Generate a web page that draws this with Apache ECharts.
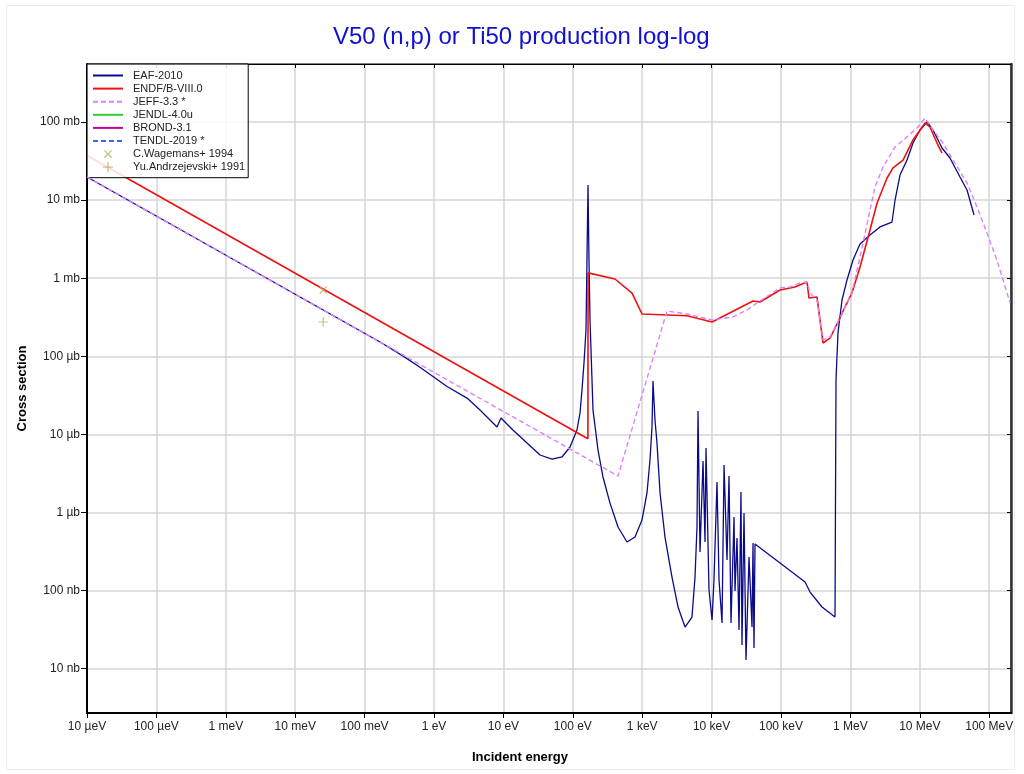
<!DOCTYPE html>
<html>
<head>
<meta charset="utf-8">
<script src="https://cdn.jsdelivr.net/npm/echarts@6/dist/echarts.min.js"></script>
<style>
html,body{margin:0;padding:0;background:#fff;}
#chart{width:1024px;height:774px;}
</style>
</head>
<body>
<div id="chart"></div>
<script>
// Energies in eV, cross sections in barns
const energyTickValues = [1e-5,1e-4,1e-3,1e-2,1e-1,1,10,100,1e3,1e4,1e5,1e6,1e7,1e8];
const energyTickLabels = ['10 µeV','100 µeV','1 meV','10 meV','100 meV','1 eV','10 eV','100 eV','1 keV','10 keV','100 keV','1 MeV','10 MeV','100 MeV'];
const xsTickValues = [1e-8,1e-7,1e-6,1e-5,1e-4,1e-3,1e-2,1e-1];
const xsTickLabels = ['10 nb','100 nb','1 µb','10 µb','100 µb','1 mb','10 mb','100 mb'];

const seriesNames = ['EAF-2010','ENDF/B-VIII.0','JEFF-3.3 *','JENDL-4.0u','BROND-3.1','TENDL-2019 *','C.Wagemans+ 1994','Yu.Andrzejevski+ 1991'];

const eaf2010 = [
 [1e-5,0.01977],[0.1667,1.524e-4],[0.35,1.02e-4],[0.62,7.3e-5],[0.966,5.5e-5],[1.538,4.1e-5],[2.99,2.92e-5],
 [4.60,2.05e-5],[8.09,1.245e-5],[9.23,1.62e-5],[13.7,1.14e-5],[21.9,7.76e-6],[33.7,5.45e-6],
 [50.1,4.84e-6],[69.8,5.14e-6],[91.2,6.90e-6],[114.9,1.14e-5],[127,1.88e-5],[135.6,3.71e-5],
 [144.9,8.20e-5],[154.9,2.17e-4],[160,1.71e-3],[165.5,0.0156],[171,1.71e-3],[177,2.92e-4],
 [195.4,2.05e-5],[230.7,6.31e-6],[272,2.85e-6],[343.6,1.32e-6],[448,6.52e-7],[604,4.19e-7],
 [787,4.85e-7],[993,8.01e-7],[1172,1.78e-6],[1295,4.70e-6],[1384,1.245e-5],[1430,4.83e-5],
 [1528,1.53e-5],[1633,7.76e-6],[1807,1.78e-6],[2130,4.85e-7],[2685,1.49e-7],[3280,6.17e-8],
 [4140,3.42e-8],[5215,4.59e-8],[5765,1.49e-7],[6160,6.52e-7],[6370,2.00e-5],[6810,3.12e-7],
 [7520,4.56e-6],[8035,4.19e-7],[8300,6.70e-6],[9170,1.02e-7],[10140,4.21e-8],[10820,1.37e-7],
 [11960,2.46e-6],[12790,1.37e-7],[14130,3.85e-8],[15100,4.06e-6],[16120,4.06e-6],[16670,2.47e-7],
 [17820,2.93e-6],[19030,3.85e-8],[21030,8.75e-7],[21730,9.89e-8],[23230,4.71e-7],[24830,3.13e-8],
 [26500,1.83e-6],[27400,2.01e-8],[29300,9.86e-7],[31300,1.29e-8],[34600,2.69e-7],[38200,3.42e-8],
 [39500,4.07e-7],[40800,1.84e-8],[42200,3.95e-7],[222000,1.29e-7],[262000,9.59e-8],[390000,6.17e-8],
 [600000,4.59e-8],[620000,4.98e-5],[662000,1.99e-4],[757000,5.26e-4],[893000,9.48e-4],
 [1.09e6,1.71e-3],[1.375e6,2.74e-3],[1.915e6,3.57e-3],[2.67e6,4.53e-3],[3.97e6,5.24e-3],
 [4.40e6,0.01003],[5.18e6,0.02094],[6.54e6,0.0326],[7.98e6,0.0538],[1.007e7,0.079],[1.27e7,0.1],
 [1.55e7,0.079],[2.09e7,0.0465],[2.72e7,0.0346],[3.79e7,0.0198],[4.79e7,0.01346],[6.04e7,6.44e-3]
];

const endfb80 = [
 [1e-5,0.0373],[165,8.8e-6],[166,1.17e-3],[405,9.77e-4],[713,6.46e-4],[994,3.48e-4],[4425,3.3e-4],
 [10140,2.75e-4],[39500,5.11e-4],[49800,4.96e-4],[96800,7.06e-4],[159000,7.71e-4],[201000,8.43e-4],
 [237000,8.94e-4],[253000,5.57e-4],[330000,5.74e-4],[403000,1.48e-4],[508000,1.71e-4],[662000,2.75e-4],
 [836000,4.28e-4],[1.05e6,6.46e-4],[1.375e6,1.39e-3],[1.915e6,4.14e-3],[2.42e6,9.18e-3],[3.37e6,0.0192],
 [4.11e6,0.0258],[5.73e6,0.0326],[7.98e6,0.0589],[1.19e7,0.0971],[1.40e7,0.0863],[1.77e7,0.0538],[2.09e7,0.0401]
];

const jeff33 = [
 [1e-5,0.0198],[448,2.93e-6],[2276,3.80e-4],[4425,3.48e-4],[10140,2.92e-4],[20300,3.19e-4],[32400,3.92e-4],
 [49800,5.11e-4],[96800,7.50e-4],[135000,7.71e-4],[188000,8.69e-4],[237000,8.94e-4],[262000,6.46e-4],
 [330000,5.26e-4],[403000,1.62e-4],[508000,1.77e-4],[662000,2.75e-4],[836000,4.28e-4],[1.05e6,6.46e-4],
 [1.52e6,2.82e-3],[1.915e6,7.46e-3],[2.26e6,0.0147],[2.95e6,0.0265],[4.40e6,0.0479],[6.54e6,0.0643],
 [9.12e6,0.0838],[1.19e7,0.1125],[1.55e7,0.079],[2.16e7,0.0538],[3.01e7,0.0326],[4.79e7,0.0166],
 [6.67e7,8.17e-3],[9.29e7,3.79e-3],[1.29e8,1.71e-3],[2.0e8,4.81e-4]
];

const jendl40u = [];
const brond31 = [];
const tendl2019 = [];
const wagemans1994 = [[0.0253,7.06e-4]];
const andrzejevski1991 = [[0.0253,2.75e-4]];

const xMin = 1e-5, xMax = 2.06e8;
const yMin = 2.71e-9, yMax = 0.553;

function fmt(values, labels){
  return function(v){
    for (let i=0;i<values.length;i++){
      if (Math.abs(Math.log10(v)-Math.log10(values[i]))<1e-6) return labels[i];
    }
    return '';
  };
}

const FONT = '"Liberation Sans", Arial, Helvetica, sans-serif';
// marker shapes drawn inside a 14x14 box (tiny corner specks fix the box)
const BOX = 'M0,0L0.01,0L0,0.01Z M14,14L13.99,14L14,13.99Z ';
const PLUS = 'path://' + BOX + 'M6.3,1.5H7.7V6.3H12.5V7.7H7.7V12.5H6.3V7.7H1.5V6.3H6.3Z';
const CROSS = 'path://' + BOX + 'M2.5,3.5L3.5,2.5L7,6L10.5,2.5L11.5,3.5L8,7L11.5,10.5L10.5,11.5L7,8L3.5,11.5L2.5,10.5L6,7Z';
const MARK = '#bfae68';

const lineSeries = (name, data, color, width, dashed, z) => ({
  name, type:'line', data, showSymbol:false, symbol:'none',
  lineStyle:{color, width, type: dashed ? [5,3] : 'solid'},
  itemStyle:{color, opacity:0}, z: z || 2
});

const chart = echarts.init(document.getElementById('chart'), null, {renderer:'canvas'});
chart.setOption({
  backgroundColor:'#ffffff',
  animation:false,
  textStyle:{fontFamily:FONT},
  title:{
    text:'V50 (n,p) or Ti50 production log-log',
    left:328, top:20,
    textStyle:{color:'#1010d0', fontSize:24, fontWeight:'normal', fontFamily:FONT}
  },
  graphic:[{type:'rect', shape:{x:6.5,y:5.5,width:1008,height:764}, style:{fill:'none', stroke:'#ececec', lineWidth:1}, silent:true, z:-1}],
  grid:{left:87, right:13, top:64, bottom:61, show:true, borderColor:'#000', borderWidth:1, backgroundColor:'#fff'},
  legend:{
    left:87, top:64, orient:'vertical',
    data:seriesNames,
    itemWidth:30, itemHeight:13, itemGap:0.1,
    padding:[5,3,4,5],
    backgroundColor:'rgba(255,255,255,0.85)',
    borderColor:'#000', borderWidth:1,
    textStyle:{fontSize:11, color:'#222', fontFamily:FONT, lineHeight:13, padding:[0,0,0,5]}
  },
  xAxis:[{
    type:'log', min:xMin, max:xMax, interval:1, logBase:10,
    name:'Incident energy', nameLocation:'middle', nameGap:38,
    nameTextStyle:{fontWeight:'bold', fontSize:13, color:'#000', padding:[0,58,0,0]},
    axisLine:{lineStyle:{color:'#000', width:2}},
    axisTick:{inside:false, length:5, lineStyle:{color:'#000'}, customValues:energyTickValues},
    axisLabel:{formatter:fmt(energyTickValues, energyTickLabels), fontSize:12, color:'#222', margin:8, customValues:energyTickValues},
    splitLine:{show:true, lineStyle:{color:'#d6d6d6', width:1.5}}
  },{
    type:'log', min:xMin, max:xMax, interval:1, position:'top',
    axisLine:{lineStyle:{color:'#000', width:1}},
    axisTick:{inside:true, length:4, lineStyle:{color:'#000'}, customValues:energyTickValues},
    axisLabel:{show:false}, splitLine:{show:false}
  }],
  yAxis:[{
    type:'log', min:yMin, max:yMax, splitNumber:8, logBase:10,
    name:'Cross section', nameLocation:'middle', nameGap:49,
    nameTextStyle:{fontWeight:'bold', fontSize:13, color:'#000'},
    axisLine:{lineStyle:{color:'#000', width:2}},
    axisTick:{inside:false, length:6, lineStyle:{color:'#000'}, customValues:xsTickValues},
    axisLabel:{formatter:fmt(xsTickValues, xsTickLabels), fontSize:12, color:'#222', margin:7, customValues:xsTickValues},
    splitLine:{show:true, lineStyle:{color:'#d6d6d6', width:1.5}}
  },{
    type:'log', min:yMin, max:yMax, splitNumber:8, position:'right',
    axisLine:{lineStyle:{color:'#333', width:2.5}},
    axisTick:{inside:true, length:4, lineStyle:{color:'#000'}, customValues:xsTickValues},
    axisLabel:{show:false}, splitLine:{show:false}
  }],
  series:[
    lineSeries(seriesNames[0], eaf2010, '#0b0b8a', 1.3, false, 2),
    lineSeries(seriesNames[1], endfb80, '#ee1111', 1.6, false, 3),
    lineSeries(seriesNames[2], jeff33, '#dd80ff', 1.4, true, 4),
    lineSeries(seriesNames[3], jendl40u, '#33cc33', 1.6, false),
    lineSeries(seriesNames[4], brond31, '#cc0099', 1.6, false),
    lineSeries(seriesNames[5], tendl2019, '#3a66e8', 1.4, true),
    {name:seriesNames[6], type:'scatter', data:wagemans1994, symbol:CROSS, symbolSize:12, itemStyle:{color:MARK}, z:5},
    {name:seriesNames[7], type:'scatter', data:andrzejevski1991, symbol:PLUS, symbolSize:12, itemStyle:{color:MARK}, z:5}
  ]
});
</script>
</body>
</html>
